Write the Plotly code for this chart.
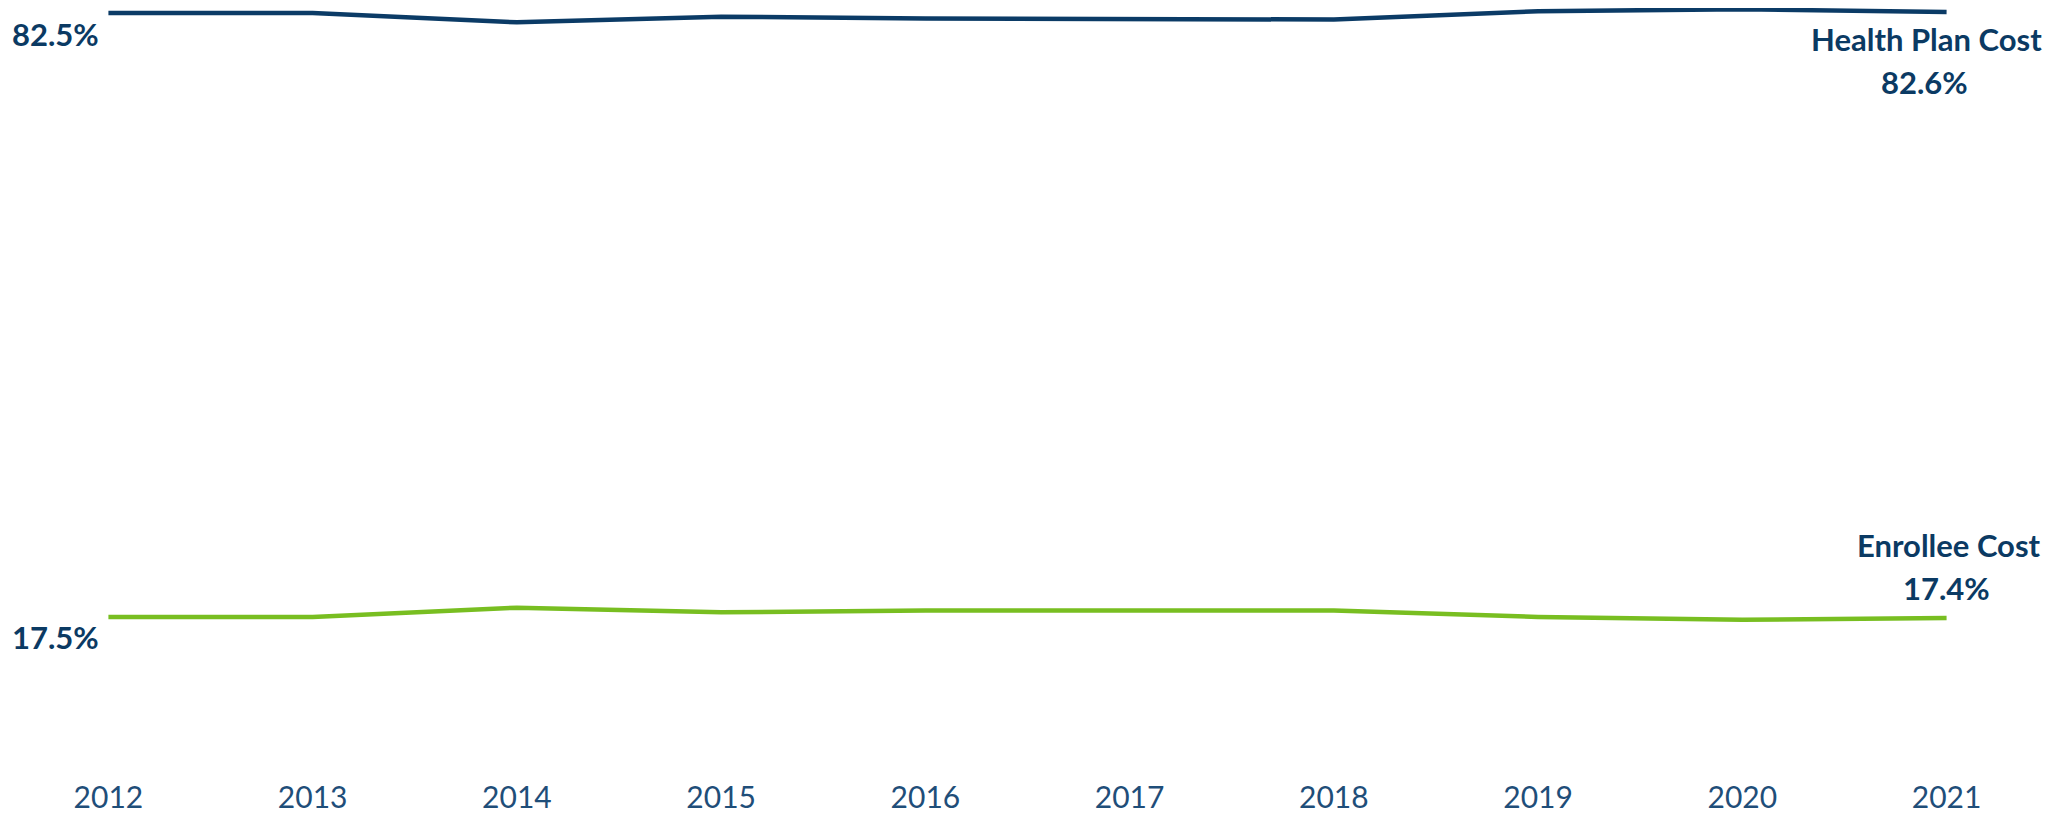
import plotly.graph_objects as go

years = [2012, 2013, 2014, 2015, 2016, 2017, 2018, 2019, 2020, 2021]
health_plan_cost = [82.5, 82.5, 81.5, 82.1, 81.9, 81.8, 81.8, 82.7, 82.9, 82.6]
enrollee_cost = [17.5, 17.5, 18.5, 18.0, 18.2, 18.2, 18.2, 17.5, 17.2, 17.4]

NAVY = '#0B3B66'
GREEN = '#78BE21'
LABEL = '#0B3A63'
TICK = '#1F4E79'
FONT = 'Lato'

fig = go.Figure()
fig.add_trace(go.Scatter(x=years, y=health_plan_cost, mode='lines', name='Health Plan Cost',
                         line=dict(color=NAVY, width=4.5)))
fig.add_trace(go.Scatter(x=years, y=enrollee_cost, mode='lines', name='Enrollee Cost',
                         line=dict(color=GREEN, width=4.5)))

bold = dict(family=FONT, size=31, color=LABEL, weight='bold')
annotations = [
    # start values on the left
    dict(x=years[0], y=health_plan_cost[0], text=f'{health_plan_cost[0]:.1f}%',
         xanchor='right', yanchor='middle', xshift=-7, yshift=-21),
    dict(x=years[0], y=enrollee_cost[0], text=f'{enrollee_cost[0]:.1f}%',
         xanchor='right', yanchor='middle', xshift=-7, yshift=-20),
    # series names + end values on the right
    dict(x=years[-1], y=health_plan_cost[-1], text='Health Plan Cost',
         xanchor='center', yanchor='middle', xshift=-20, yshift=-27),
    dict(x=years[-1], y=health_plan_cost[-1], text=f'{health_plan_cost[-1]:.1f}%',
         xanchor='center', yanchor='middle', xshift=-22, yshift=-70),
    dict(x=years[-1], y=enrollee_cost[-1], text='Enrollee Cost',
         xanchor='center', yanchor='middle', xshift=2, yshift=73),
    dict(x=years[-1], y=enrollee_cost[-1], text=f'{enrollee_cost[-1]:.1f}%',
         xanchor='center', yanchor='middle', xshift=0, yshift=30),
]
for a in annotations:
    a.update(showarrow=False, font=bold)

# page body keeps its default 8px margin, so the figure is sized to fit the window
fig.update_layout(
    width=2058, height=814,
    margin=dict(l=80, r=99, t=0, b=45),
    paper_bgcolor='white', plot_bgcolor='white',
    showlegend=False,
    annotations=annotations,
    xaxis=dict(range=[2011.9, 2021.1], tickmode='array', tickvals=years,
               ticktext=[str(y) for y in years], showgrid=False, zeroline=False,
               showline=False, ticks='', automargin=False,
               tickfont=dict(family=FONT, size=30, color=TICK)),
    yaxis=dict(range=[0.28, 83.04], visible=False, showgrid=False, zeroline=False),
)

fig.write_html('out.html')
